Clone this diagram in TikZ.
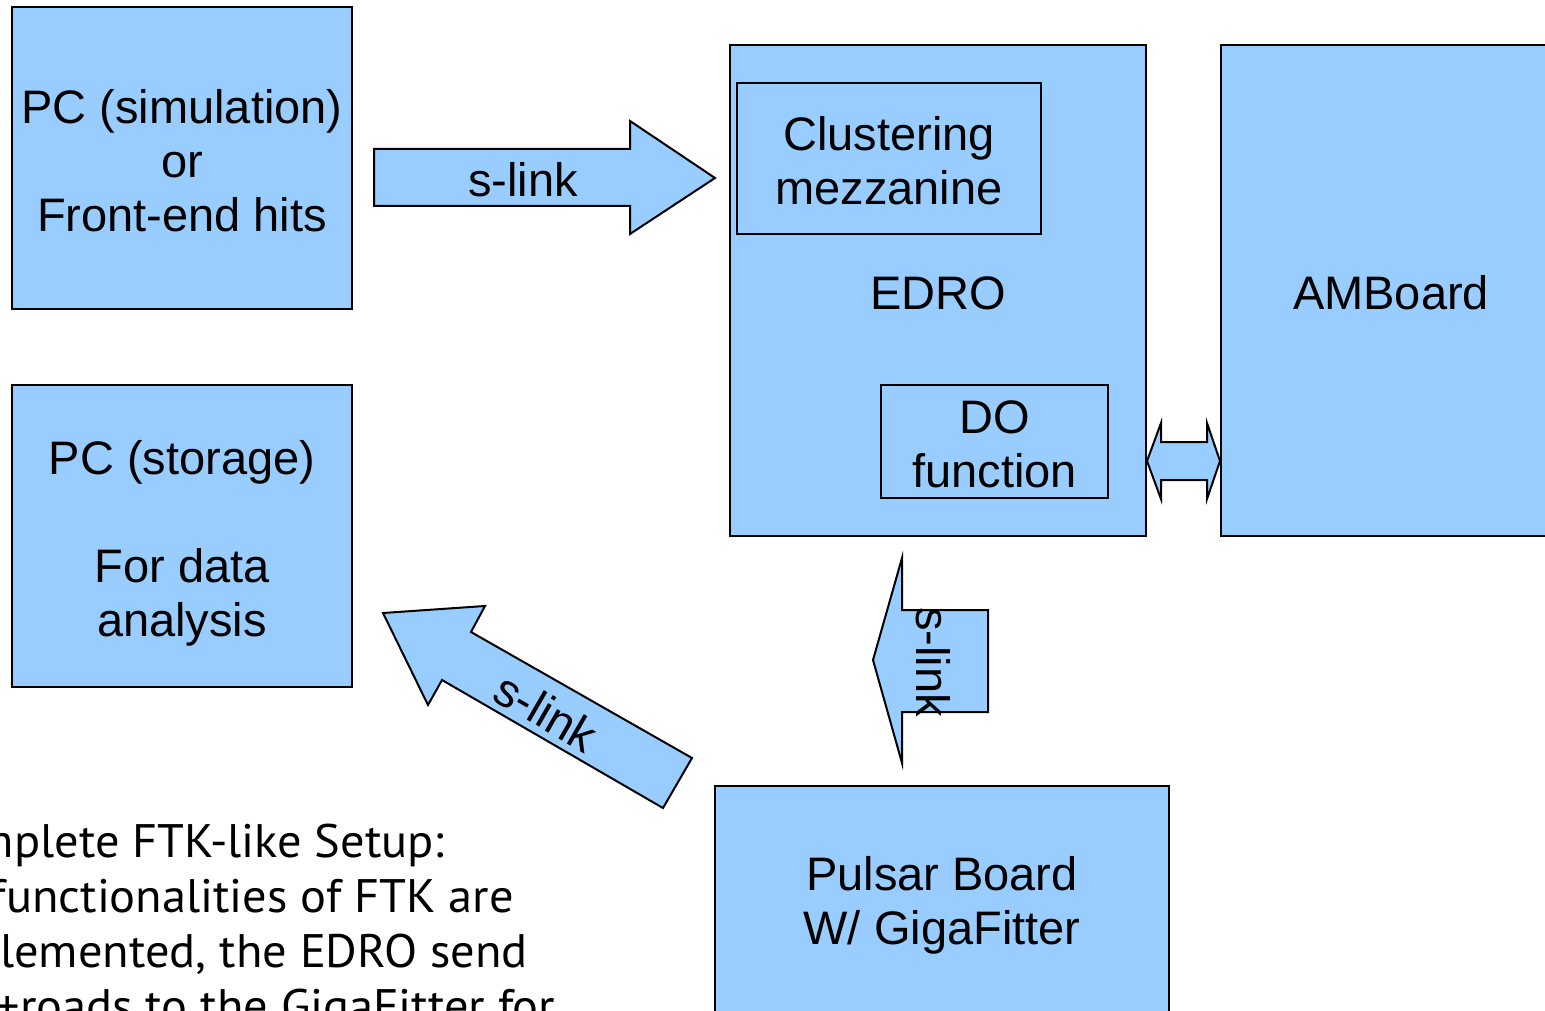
\documentclass[tikz,border=0pt]{standalone}
\usepackage{fontspec}
\setmainfont{Liberation Sans}
\newfontfamily\notefont[FakeStretch=1.03]{PT Sans}
\definecolor{boardblue}{HTML}{99CCFF}
\begin{document}
\begin{tikzpicture}[x=1pt,y=-1pt,
  board/.style={draw=black, fill=boardblue, line width=2pt, rectangle, inner sep=0pt},
  boardlabel/.style={inner sep=0pt, align=center, font=\fontsize{47}{54}\selectfont},
  blockarrow/.style={draw=black, fill=boardblue, line width=2pt, line join=miter},
  arrowlabel/.style={font=\fontsize{47}{54}\selectfont, inner sep=0pt},
  noteline/.style={anchor=base west, inner sep=0pt,
    font=\notefont\fontsize{47}{55}\selectfont}]
\useasboundingbox (0,0) rectangle (1545,1011);
\fill[white] (0,0) rectangle (1545,1011);
\clip (0,0) rectangle (1545,1011);

% boards
\node[board, minimum width=340pt, minimum height=302pt] (sim) at (182,158) {};
\node[boardlabel] (simtext) at ([yshift=-3pt]sim.center)
  {PC (simulation)\\or\\Front-end hits};
\node[board, minimum width=340pt, minimum height=302pt] (store) at (182,536) {};
\node[boardlabel] (storetext) at ([yshift=-7pt]store.center)
  {PC (storage)\\~\\For data\\analysis};
\node[board, minimum width=416pt, minimum height=491pt] (edro) at (938,290.5) {};
\node[boardlabel] (edrotext) at ([yshift=-3pt]edro.center) {EDRO};
\node[board, minimum width=304pt, minimum height=151pt] (clust) at (889,158.5) {};
\node[boardlabel] (clusttext) at ([yshift=-2pt]clust.center) {Clustering\\mezzanine};
\node[board, minimum width=227pt, minimum height=113pt] (dofn) at (994.5,441.5) {};
\node[boardlabel] (dofntext) at ([yshift=-3pt]dofn.center) {DO\\function};
\node[board, minimum width=340pt, minimum height=491pt] (amb) at (1391,290.5) {};
\node[boardlabel] (ambtext) at ([yshift=-2pt]amb.center) {AMBoard};
\node[board, minimum width=454pt, minimum height=232pt] (pulsar) at (942,902) {};
\node[boardlabel] (pulsartext) at ([yshift=-3pt]pulsar.center)
  {Pulsar Board\\W/ GigaFitter};

% s-link: simulation PC -> EDRO
\draw[blockarrow] (374,149) -- (630,149) -- (630,121) -- (715,178)
  -- (630,234) -- (630,206) -- (374,206) -- cycle;
\node[arrowlabel] (linkA) at (523,180) {s-link};

% s-link: Pulsar board -> EDRO
\draw[blockarrow] (873,660) -- (902,558) -- (902,610) -- (988,610)
  -- (988,712) -- (902,712) -- (902,763) -- cycle;
\node[arrowlabel, rotate=-90] (linkB) at (933,662) {s-link};

% s-link: Pulsar board -> storage PC
\draw[blockarrow] (383,613) -- (485,606) -- (471,632) -- (692,758)
  -- (663,808) -- (442,680) -- (428,705) -- cycle;
\node[arrowlabel, rotate=-30] (linkC) at (546,712) {s-link};

% EDRO <-> AMBoard
\draw[blockarrow] (edro.east |- 0,461) -- (1161,423) -- (1161,442) -- (1207,442)
  -- (1207,423) -- (amb.west |- 0,461) -- (1207,499) -- (1207,480)
  -- (1161,480) -- (1161,499) -- cycle;

% caption text
\node[noteline] (note1) at (14,857) {\llap{Com}plete FTK-like Setup:};
\node[noteline] (note2) at (6,912) {\llap{All f}unctionalities of FTK are};
\node[noteline] (note3) at (0,967) {\llap{imp}lemented, the EDRO send};
\node[noteline] (note4) at (20,1022) {\llap{hits+}roads to the GigaFitter for};
\end{tikzpicture}
\end{document}
